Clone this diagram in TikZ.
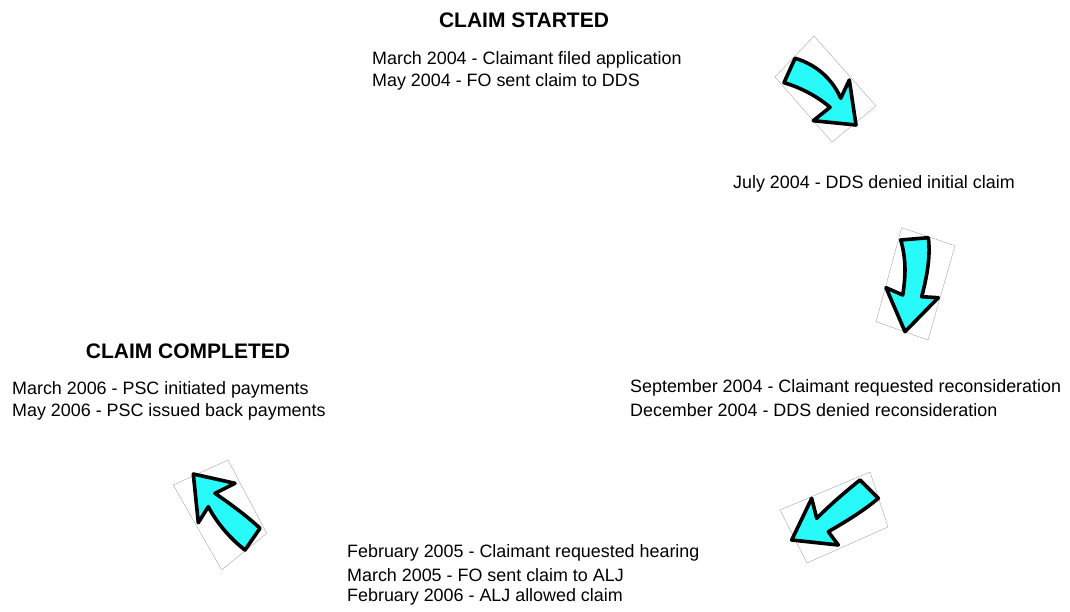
\documentclass[tikz,border=0pt]{standalone}
\usepackage{fontspec}
\setmainfont{Liberation Sans}
\definecolor{aqua}{RGB}{40,250,250}
\begin{document}
\begin{tikzpicture}[x=1pt,y=-1pt,
  body/.style={anchor=west,inner sep=0pt,font=\fontsize{17.9}{22}\selectfont},
  title/.style={anchor=center,inner sep=0pt,font=\fontsize{21}{24}\selectfont\bfseries},
  arr/.style={draw=black,line width=3.6pt,line join=round,fill=aqua},
  frame/.style={draw=black!35,line width=0.4pt}]
\useasboundingbox (0,0) rectangle (1070,612);
% titles
\node[title] (ts) at (524,20) {CLAIM STARTED};
\node[title] (tc) at (188,351) {CLAIM COMPLETED};
% texts
\node[body] (s1) at (372,60) {March 2004 - Claimant filed application};
\node[body] (s2) at (372,82) {May 2004 - FO sent claim to DDS};
\node[body] (j1) at (733,184) {July 2004 - DDS denied initial claim};
\node[body] (r1) at (630,388) {September 2004 - Claimant requested reconsideration};
\node[body] (r2) at (630,410) {December 2004 - DDS denied reconsideration};
\node[body] (h1) at (347,553) {February 2005 - Claimant requested hearing};
\node[body] (h2) at (347,575) {March 2005 - FO sent claim to ALJ};
\node[body] (h3) at (347,597) {February 2006 - ALJ allowed claim};
\node[body] (c1) at (12,390) {March 2006 - PSC initiated payments};
\node[body] (c2) at (12,412) {May 2006 - PSC issued back payments};
% arrow frames
\draw[frame] (814,36) -- (775,77) -- (832,142) -- (876,106) -- cycle;
\draw[frame] (901.7,227.7) -- (955,245.7) -- (928,340) -- (876,321.7) -- cycle;
\draw[frame] (870,472) -- (888,527) -- (807,563) -- (780,510) -- cycle;
\draw[frame] (173.3,485) -- (228,460) -- (266.7,533.3) -- (221.7,570) -- cycle;
% arrows
\draw[arr] (795,58.3) .. controls (815,64) and (832,78) .. (840.7,98.3) -- (849.3,80) -- (856,125) -- (813.3,120.7) -- (830,107.3) .. controls (818,97) and (802,88) .. (784,82.7) -- cycle;
\draw[arr] (900.7,240) -- (928.3,237.7) .. controls (931,258) and (926,280) .. (921.7,296.7) -- (938.3,297.7) -- (905,331.7) -- (886,287.7) -- (902.7,295) .. controls (906,275) and (906,258) .. (900.7,240) -- cycle;
\draw[arr] (860,480) .. controls (845,492) and (830,505) .. (816.7,518.3) -- (811.7,498.3) -- (791.7,540) -- (838.3,545) -- (828.3,531.7) .. controls (845,522) and (862,512) .. (878.3,498.3) -- cycle;
\draw[arr] (193.3,474) -- (235,483.3) -- (215,493.3) .. controls (232,505) and (248,517) .. (260,528.3) -- (245,550) .. controls (232,540) and (218,525) .. (208.3,506.7) -- (198.3,522.7) -- cycle;
\end{tikzpicture}
\end{document}
